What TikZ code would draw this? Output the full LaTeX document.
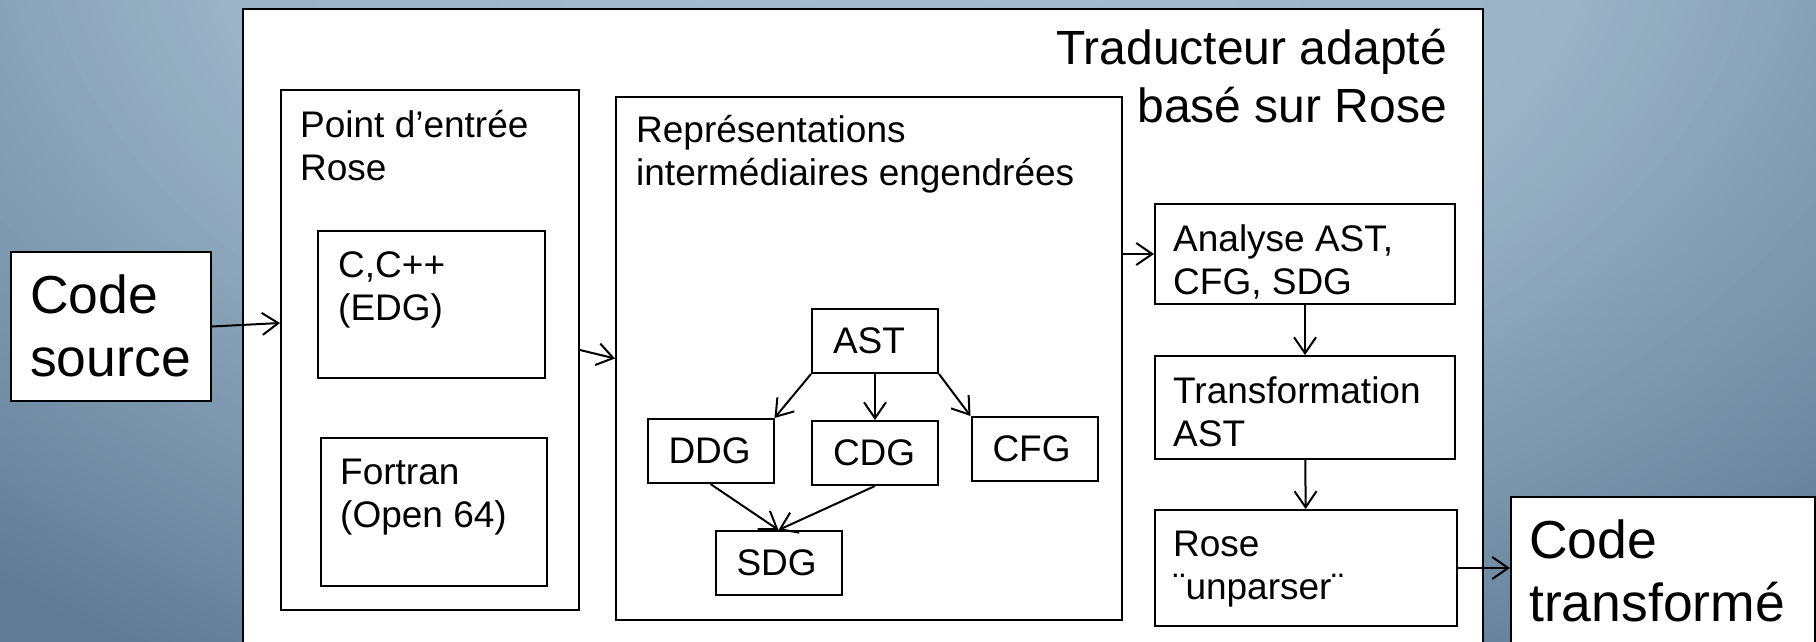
\documentclass[tikz,border=0pt]{standalone}
\usepackage{fontspec}
\setmainfont{Liberation Sans}
\usetikzlibrary{arrows.meta}
\definecolor{bgA}{HTML}{A8BFD1}
\definecolor{bgB}{HTML}{9AB3C7}
\definecolor{bgC}{HTML}{7893AA}
\definecolor{bgD}{HTML}{607C95}
\begin{document}
\begin{tikzpicture}[x=1pt,y=-1pt,
  box/.style={draw,line width=2pt,fill=white,inner sep=0pt,anchor=north west},
  gbox/.style={draw,line width=2pt,fill=white,inner xsep=21pt,inner ysep=0pt,text width=84pt,align=left,minimum height=64pt,font=\fontsize{37}{43}\selectfont},
  txt/.style={anchor=base west,align=left,inner sep=0pt,font=\fontsize{37}{43}\selectfont},
  big/.style={anchor=base west,align=left,inner sep=0pt,font=\fontsize{53.5}{63}\selectfont}]
  \useasboundingbox (0,0) rectangle (1816,641);
  \begin{scope}
    \clip (0,0) rectangle (1816,641);
    \fill[bgD] (-10,-10) rectangle (1826,651);
    \foreach \k in {1,...,119}{
      \pgfmathsetmacro{\t}{1-\k/120}
      \ifdim\t pt>0.8pt \pgfmathtruncatemacro{\p}{(1-\t)*500}\colorlet{ring}{bgC!\p!bgD}
      \else\ifdim\t pt>0.5pt \pgfmathtruncatemacro{\p}{(0.8-\t)*1000/3}\colorlet{ring}{bgB!\p!bgC}
      \else \pgfmathtruncatemacro{\p}{(0.5-\t)*200}\colorlet{ring}{bgA!\p!bgB}\fi\fi
      \pgfmathsetlengthmacro{\rx}{1400*\t}
      \pgfmathsetlengthmacro{\ry}{900*\t}
      \fill[ring] (900,-100) ellipse [x radius=\rx, y radius=\ry];
    }
  \end{scope}
  \node[box,minimum width=200pt,minimum height=149pt] (cs) at (10,251) {};
  \node[box,minimum width=1240pt,minimum height=700pt] (trad) at (242,8) {};
  \node[box,minimum width=298pt,minimum height=520pt] (entree) at (280,89) {};
  \node[box,minimum width=227pt,minimum height=147pt] (cpp) at (317,230) {};
  \node[box,minimum width=226pt,minimum height=148pt] (fortran) at (320,437) {};
  \node[box,minimum width=506pt,minimum height=523pt] (repr) at (615,96) {};
  \node[box,minimum width=300pt,minimum height=100pt] (analyse) at (1154,203) {};
  \node[box,minimum width=300pt,minimum height=103pt] (transf) at (1154,355) {};
  \node[box,minimum width=302pt,minimum height=116pt] (unparser) at (1154,509) {};
  \node[box,minimum width=304pt,minimum height=200pt] (ct) at (1510,496) {};
  \node[gbox] (ast) at (875,341) {AST};
  \node[gbox] (ddg) at (710.5,451) {DDG};
  \node[gbox] (cdg) at (875,453) {CDG};
  \node[gbox] (cfg) at (1034.5,449) {CFG};
  \node[gbox] (sdg) at (778.5,563) {SDG};
  \node[big] (cs-t) at (30,376) {Code\\source};
  \node[txt,anchor=base east,align=right,font=\fontsize{48}{58}\selectfont] (trad-t) at (1447,122) {Traducteur adapté\\basé sur Rose};
  \node[txt] (entree-t) at (300,180) {Point d’entrée\\Rose};
  \node[txt] (cpp-t) at (338,320) {C,C++\\(EDG)};
  \node[txt] (fortran-t) at (340,527) {Fortran\\(Open 64)};
  \node[txt] (repr-t) at (636,185) {Représentations\\intermédiaires engendrées};
  \node[txt] (analyse-t) at (1173,294) {Analyse AST,\\CFG, SDG};
  \node[txt] (transf-t) at (1173,446) {Transformation\\AST};
  \node[txt] (unparser-t) at (1173,599) {Rose\\¨unparser¨};
  \node[big] (ct-t) at (1529,621) {Code\\transformé};
  \path[line width=2pt,-{Straight Barb[length=16pt,width=22pt]}]
    (cs.east) edge ([yshift=27pt]entree.west)
    (entree.east) edge (repr.west)
    (repr.east |- analyse.west) edge (analyse.west)
    (analyse) edge (transf)
    (transf) edge (unparser)
    (unparser.east) edge (unparser.east -| ct.west)
    (ast.south west) edge (ddg.north east)
    (ast) edge (cdg)
    (ast.south east) edge (cfg.north west)
    (ddg.south) edge (sdg.north)
    (cdg.south) edge (sdg.north);
\end{tikzpicture}
\end{document}
